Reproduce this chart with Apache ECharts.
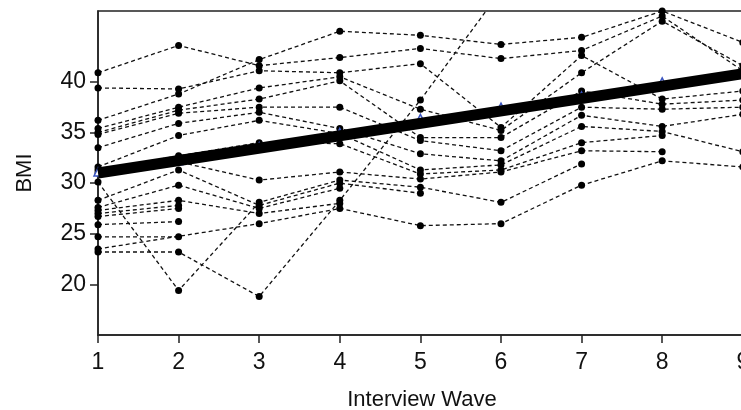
<!DOCTYPE html>
<html>
<head>
    <meta charset="utf-8">
    <title>BMI by wave</title>
    <script src="https://cdn.jsdelivr.net/npm/echarts@6/dist/echarts.min.js"></script>
    <style type="text/css">
        html, body {
            margin: 0;
            height: 100%;
            background: #fff;
        }
    </style>
</head>
<body>
<div id="main" style="width: 741px;height:410px;"></div>
<script type="text/javascript">
    // interview waves
    var waves = [1, 2, 3, 4, 5, 6, 7, 8, 9];
    var yTicks = [20, 25, 30, 35, 40];

    // BMI per respondent, null = not interviewed
    var sA = [40.9, 43.6, 41.6, 42.4, 43.3, 42.3, 43.1, 46.5, 41.1];
    var sB = [39.4, 39.3, 41.1, 40.9, 41.8, 35.5, 42.6, 38.3, 39.1];
    var sC = [36.2, 38.8, 42.2, 45.0, 44.6, 43.7, 44.4, 47.0, 43.9];
    var sD = [35.4, 37.5, 39.4, 40.5, 37.3, 35.2, 40.9, 46.0, 41.6];
    var sE = [35.0, 37.2, 38.3, 40.1, 34.5, 34.5, 39.1, 37.8, 38.2];
    var sF = [34.8, 36.9, 37.5, 37.5, 34.2, 33.2, 37.5, 37.3, 37.5];
    var sG = [33.5, 35.9, 37.0, 35.4, 32.9, 32.2, 36.7, 35.6, 36.8];
    var sH = [31.6, 34.7, 36.2, 34.9, 31.3, 31.8, 35.6, 35.1, 33.1];
    var sI = [31.3, 32.7, 34.0, 33.9, 30.9, 31.3, 34.0, 34.7, null];
    var sJ = [31.0, 32.1, 30.3, 31.1, 30.4, 31.1, 33.2, 33.1, null];
    var sK = [30.1, 19.4, 28.1, 30.3, 29.6, 28.1, 31.9, null, null];
    var sL = [28.3, 31.3, 27.8, 30.0, 29.0, null, null, null, null];
    var sM = [27.6, 29.8, 27.5, 29.5, null, null, null, null, null];
    var sN = [27.3, 28.3, 27.0, 28.0, null, null, null, null, null];
    var sO = [27.0, 27.8, null, null, null, null, null, null, null];
    var sP = [26.7, 27.5, null, null, null, null, null, null, null];
    var sQ = [25.9, 26.2, null, null, null, null, null, null, null];
    var sS = [24.7, 24.7, null, null, null, null, null, null, null];
    var sT = [23.5, null, 26.0, 27.5, 25.8, 26.0, 29.8, 32.2, 31.6];
    var sR = [23.2, 23.2, 18.8, 28.3, 38.2, 49.0, null, null, null];
    var subjects = [sA, sB, sC, sD, sE, sF, sG, sH, sI, sJ, sK, sL, sM, sN, sO, sP, sQ, sS, sT, sR];

    // observed means (blue triangles) and fitted growth line
    var meanValues = [31.1, 32.2, 33.6, 35.0, 36.4, 37.5, 38.6, 40.0, 40.9];
    var fitWaves = [1, 9];
    var fitValues = [31.0, 40.8];

    var font = "'Liberation Sans Narrow', 'Liberation Sans', Arial, sans-serif";
    var myChart = echarts.init(document.getElementById('main'), null, {renderer: 'canvas'});

    var series = [];
    subjects.forEach(function (vals) {
        var pts = [];
        vals.forEach(function (v, k) {
            if (v !== null) pts.push([waves[k], v]);
        });
        series.push({
            type: 'line',
            data: pts,
            symbol: 'circle',
            symbolSize: 7,
            clip: true,
            silent: true,
            z: 2,
            itemStyle: {color: '#000'},
            lineStyle: {color: '#111', width: 1.3, type: [4, 3]}
        });
    });
    series.push({
        type: 'line',
        data: waves.map(function (w, k) { return [w, meanValues[k]]; }),
        symbol: 'triangle',
        symbolSize: 8,
        z: 3,
        itemStyle: {color: '#fff', borderColor: '#3a55c0', borderWidth: 1.5},
        lineStyle: {width: 0}
    });
    series.push({
        type: 'line',
        data: fitWaves.map(function (w, k) { return [w, fitValues[k]]; }),
        symbol: 'none',
        z: 4,
        lineStyle: {color: '#000', width: 11}
    });

    var option = {
        animation: false,
        grid: {
            left: 98, right: -5, top: 11, bottom: 75,
            outerBoundsMode: 'none',
            containLabel: false,
            show: true, borderColor: '#222', borderWidth: 1.5
        },
        xAxis: {
            type: 'value',
            min: 1,
            max: 9.04,
            interval: 1,
            name: 'Interview Wave',
            nameLocation: 'middle',
            nameGap: 54,
            nameTextStyle: {fontFamily: font, fontSize: 22, color: '#111'},
            splitLine: {show: false},
            axisLine: {show: true, lineStyle: {color: '#222', width: 1.5}},
            axisTick: {show: true, length: 8, lineStyle: {color: '#222', width: 1.5}, customValues: waves},
            axisLabel: {fontFamily: font, fontSize: 23, color: '#111', margin: 16, customValues: waves}
        },
        yAxis: {
            type: 'value',
            min: 15,
            max: 47,
            name: 'BMI',
            nameLocation: 'middle',
            nameGap: 62,
            nameTextStyle: {fontFamily: font, fontSize: 22, color: '#111'},
            splitLine: {show: false},
            axisLine: {show: true, lineStyle: {color: '#222', width: 1.5}},
            axisTick: {show: true, length: 8, lineStyle: {color: '#222', width: 1.5}, customValues: yTicks},
            axisLabel: {fontFamily: font, fontSize: 23, color: '#111', margin: 12, customValues: yTicks}
        },
        series: series
    };

    myChart.setOption(option);
</script>
</body>
</html>
